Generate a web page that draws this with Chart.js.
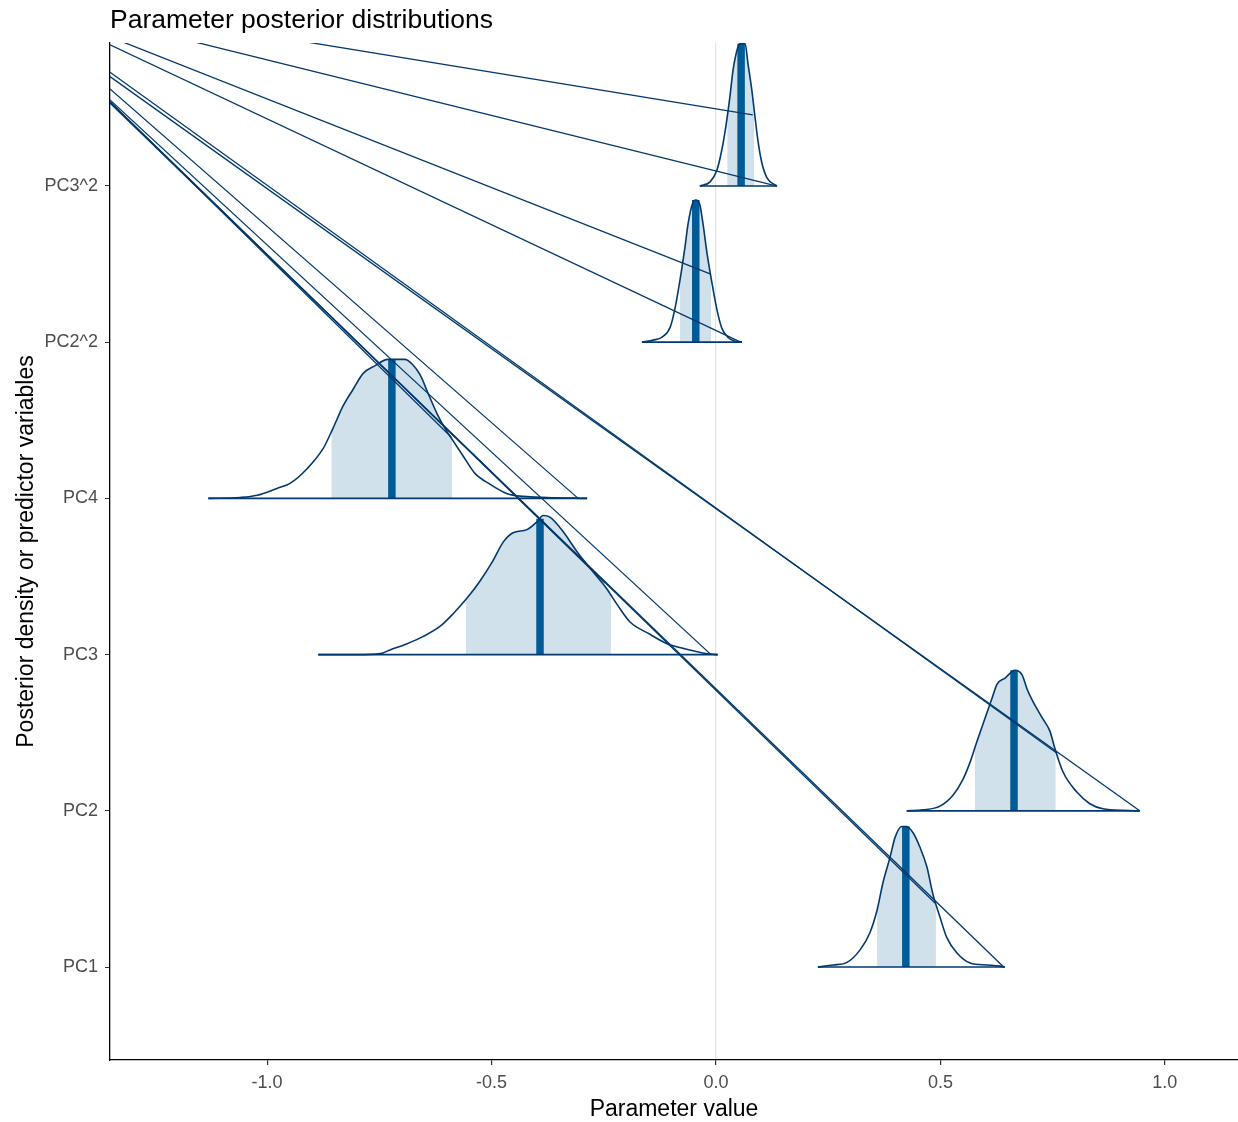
<!DOCTYPE html>
<html>
<head>
<meta charset="utf-8">
<title>Parameter posterior distributions</title>
<script src="https://cdn.jsdelivr.net/npm/chart.js@4.4.1/dist/chart.umd.min.js"></script>
<style>
  html, body { margin: 0; padding: 0; background: #fff; }
</style>
</head>
<body>
<canvas id="myChart" width="1238" height="1122"></canvas>
<script>
(function () {
  'use strict';

  var titleText = 'Parameter posterior distributions';
  var xTitle = 'Parameter value';
  var yTitle = 'Posterior density or predictor variables';

  // rows on the y axis, bottom to top
  var paramNames = ['PC1', 'PC2', 'PC3', 'PC4', 'PC2^2', 'PC3^2'];
  var paramRows = [1, 2, 3, 4, 5, 6];

  var xTickValues = [-1, -0.5, 0, 0.5, 1];
  var xTickLabels = ['-1.0', '-0.5', '0.0', '0.5', '1.0'];

  // density outlines: x = parameter value, h = height above the row
  var pc1X = [0.227, 0.261, 0.292, 0.321, 0.343, 0.359, 0.372, 0.388, 0.399, 0.414, 0.425, 0.439, 0.454, 0.470, 0.483, 0.499, 0.514, 0.537, 0.566, 0.604, 0.633, 0.644];
  var pc1H = [0, 0.013, 0.03, 0.11, 0.22, 0.365, 0.54, 0.705, 0.83, 0.90, 0.90, 0.86, 0.77, 0.64, 0.47, 0.32, 0.19, 0.09, 0.026, 0.013, 0.006, 0];

  var pc2X = [0.425, 0.461, 0.499, 0.528, 0.550, 0.566, 0.581, 0.599, 0.615, 0.626, 0.644, 0.666, 0.682, 0.693, 0.706, 0.728, 0.744, 0.755, 0.773, 0.804, 0.833, 0.862, 0.944];
  var pc2H = [0, 0.006, 0.03, 0.10, 0.20, 0.31, 0.44, 0.59, 0.72, 0.81, 0.85, 0.90, 0.87, 0.78, 0.70, 0.59, 0.51, 0.40, 0.25, 0.12, 0.045, 0.013, 0];

  var pc3X = [-0.886, -0.800, -0.748, -0.726, -0.688, -0.653, -0.615, -0.586, -0.555, -0.526, -0.497, -0.474, -0.452, -0.421, -0.399, -0.385, -0.370, -0.341, -0.310, -0.274, -0.243, -0.220, -0.192, -0.147, -0.109, -0.073, -0.020, 0.004];
  var pc3H = [0, 0, 0.006, 0.03, 0.07, 0.115, 0.18, 0.26, 0.36, 0.47, 0.60, 0.72, 0.78, 0.80, 0.85, 0.89, 0.88, 0.79, 0.66, 0.53, 0.42, 0.32, 0.21, 0.13, 0.07, 0.04, 0.006, 0];

  var pc4X = [-1.131, -1.060, -1.022, -0.978, -0.949, -0.911, -0.875, -0.853, -0.831, -0.808, -0.786, -0.759, -0.731, -0.693, -0.677, -0.659, -0.641, -0.621, -0.604, -0.586, -0.563, -0.537, -0.503, -0.465, -0.430, -0.376, -0.287];
  var pc4H = [0, 0.006, 0.02, 0.064, 0.096, 0.19, 0.32, 0.45, 0.59, 0.70, 0.80, 0.85, 0.89, 0.89, 0.86, 0.79, 0.67, 0.54, 0.45, 0.37, 0.27, 0.16, 0.09, 0.03, 0.013, 0.006, 0];

  var pc2sqX = [-0.165, -0.140, -0.120, -0.102, -0.091, -0.080, -0.069, -0.062, -0.053, -0.045, -0.036, -0.029, -0.020, -0.009, 0.002, 0.013, 0.027, 0.042, 0.058];
  var pc2sqH = [0, 0.013, 0.032, 0.096, 0.22, 0.40, 0.61, 0.76, 0.88, 0.91, 0.88, 0.76, 0.57, 0.38, 0.21, 0.09, 0.03, 0.006, 0];

  var pc3sqX = [-0.036, -0.013, 0.002, 0.013, 0.022, 0.031, 0.038, 0.047, 0.053, 0.065, 0.071, 0.080, 0.087, 0.094, 0.102, 0.114, 0.136];
  var pc3sqH = [0, 0.026, 0.10, 0.23, 0.38, 0.57, 0.74, 0.87, 0.91, 0.91, 0.79, 0.61, 0.44, 0.28, 0.15, 0.05, 0];

  // shaded interval and point estimate, same order as paramNames
  var intervalLo = [0.359, 0.577, -0.557, -0.857, -0.080, 0.025];
  var intervalLoH = [0.365, 0.41, 0.355, 0.43, 0.40, 0.44];
  var intervalHi = [0.490, 0.757, -0.234, -0.588, -0.011, 0.085];
  var intervalHiH = [0.39, 0.38, 0.38, 0.38, 0.41, 0.49];
  var medians = [0.423, 0.664, -0.392, -0.722, -0.045, 0.056];
  var medianH = [0.90, 0.90, 0.87, 0.89, 0.91, 0.91];

  // the stray straight lines coming in from the left edge
  var strayStartY = [7.127, 7.056, 6.954, 6.903, 6.728, 6.70, 6.621, 6.551, 6.538, 6.538, 6.538, 6.531];
  var strayEndX = [0.082, 0.134, -0.013, 0.055, 0.759, 0.944, -0.307, -0.011, -0.590, -0.247, 0.488, 0.641];
  var strayEndY = [6.455, 6.0, 5.437, 5.0, 2.37, 2.0, 4.0, 3.0, 4.393, 3.458, 1.41, 1.0];

  var xMin = -1.35, xMax = 1.163;
  var yMin = 0.405, yMax = 6.915;

  var curvesX = [pc1X, pc2X, pc3X, pc4X, pc2sqX, pc3sqX];
  var curvesH = [pc1H, pc2H, pc3H, pc4H, pc2sqH, pc3sqH];

  var darkBlue = '#03396c';
  var midBlue = '#005b96';
  var lightBlue = '#d1e1ec';

  var datasets = [];

  for (var i = 0; i < paramNames.length; i++) {
    var row = paramRows[i];
    var xs = curvesX[i], hs = curvesH[i];

    var outline = [];
    var shade = [{x: intervalLo[i], y: row + intervalLoH[i]}];
    for (var j = 0; j < xs.length; j++) {
      outline.push({x: xs[j], y: row + hs[j]});
      if (xs[j] > intervalLo[i] && xs[j] < intervalHi[i]) {
        shade.push({x: xs[j], y: row + hs[j]});
      }
    }
    shade.push({x: intervalHi[i], y: row + intervalHiH[i]});

    datasets.push({
      data: shade, fill: {value: row}, backgroundColor: lightBlue,
      borderWidth: 0, borderColor: 'rgba(0,0,0,0)', cubicInterpolationMode: 'monotone', order: 5
    });
    datasets.push({
      data: [{x: medians[i], y: row}, {x: medians[i], y: row + medianH[i]}],
      borderColor: midBlue, borderWidth: 7.5, borderCapStyle: 'butt', fill: false, order: 4
    });
    datasets.push({
      data: outline, borderColor: darkBlue, borderWidth: 1.6, fill: false,
      cubicInterpolationMode: 'monotone', order: 3
    });
    datasets.push({
      data: [{x: xs[0], y: row}, {x: xs[xs.length - 1], y: row}],
      borderColor: darkBlue, borderWidth: 1.6, fill: false, order: 3
    });
  }

  for (var k = 0; k < strayEndX.length; k++) {
    datasets.push({
      data: [{x: xMin, y: strayStartY[k]}, {x: strayEndX[k], y: strayEndY[k]}],
      borderColor: darkBlue, borderWidth: 1.3, fill: false, order: 1
    });
  }

  // title sits on the left edge of the panel, like ggplot
  var plotTitle = {
    id: 'plotTitle',
    afterDraw: function (chart) {
      var ctx = chart.ctx;
      ctx.save();
      ctx.font = '26.5px "Liberation Sans", Arial, sans-serif';
      ctx.fillStyle = '#000';
      ctx.textBaseline = 'alphabetic';
      ctx.fillText(titleText, chart.chartArea.left, 28);
      ctx.restore();
    }
  };

  Chart.defaults.font.family = '"Liberation Sans", Arial, sans-serif';

  var ctx = document.getElementById('myChart').getContext('2d');
  var myChart = new Chart(ctx, {
    type: 'line',
    data: {datasets: datasets},
    plugins: [plotTitle],
    options: {
      responsive: false,
      animation: false,
      layout: {padding: {top: 43, left: 0, right: 0, bottom: 0}},
      elements: {point: {radius: 0, hoverRadius: 0}, line: {tension: 0}},
      plugins: {legend: {display: false}, tooltip: {enabled: false}},
      scales: {
        x: {
          type: 'linear', min: xMin, max: xMax,
          afterBuildTicks: function (scale) {
            scale.ticks = xTickValues.map(function (v) { return {value: v}; });
          },
          afterFit: function (scale) { scale.height = 62; },
          ticks: {
            color: '#4d4d4d', font: {size: 18}, padding: 7,
            callback: function (value) { return xTickLabels[xTickValues.indexOf(value)]; }
          },
          grid: {
            drawOnChartArea: true, tickLength: 5, tickColor: '#333', lineWidth: 1.2,
            color: function (c) { return c.tick && c.tick.value === 0 ? '#e3e3e3' : 'rgba(0,0,0,0)'; }
          },
          border: {display: true, color: '#000', width: 1.3},
          title: {display: true, text: xTitle, color: '#000', font: {size: 23}, padding: {top: 0, bottom: -1}}
        },
        y: {
          type: 'linear', min: yMin, max: yMax,
          afterBuildTicks: function (scale) {
            scale.ticks = paramRows.map(function (v) { return {value: v}; });
          },
          afterFit: function (scale) { scale.width = 110; },
          ticks: {
            color: '#4d4d4d', font: {size: 18}, padding: 7,
            callback: function (value) { return paramNames[paramRows.indexOf(value)]; }
          },
          grid: {drawOnChartArea: false, tickLength: 5, tickColor: '#333'},
          border: {display: true, color: '#000', width: 1.3},
          title: {display: true, text: yTitle, color: '#000', font: {size: 23}, padding: {top: 13, bottom: 0}}
        }
      }
    }
  });
}());
</script>
</body>
</html>
